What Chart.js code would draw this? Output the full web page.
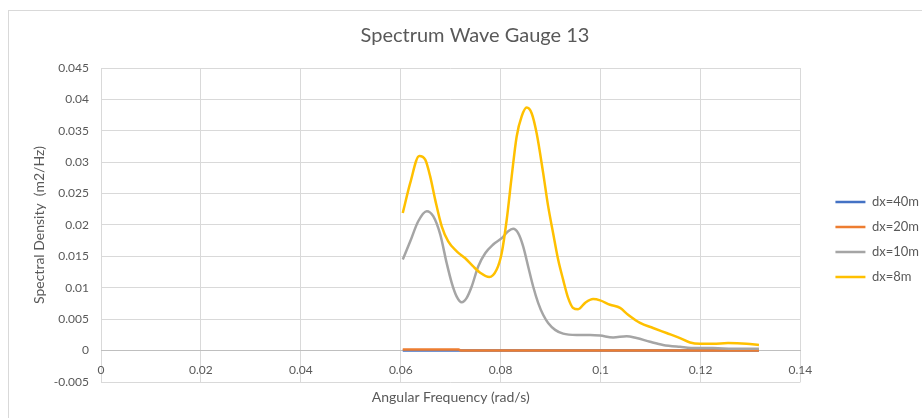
<!DOCTYPE html>
<html>
<head>
<meta charset="utf-8">
<script src="https://cdn.jsdelivr.net/npm/chart.js@4"></script>
<style>
  html, body { margin: 0; padding: 0; background: #fff; overflow: hidden; }
  #wrap { position: absolute; left: 8px; top: 10px; width: 930px; height: 420px; border: 1px solid #d9d9d9; background: #fff; }
</style>
</head>
<body>
<div id="wrap"><canvas id="spectrumChart" width="930" height="420"></canvas></div>
<script>
// Spectrum Wave Gauge 13 - spectral density vs angular frequency

const seriesNames = ['dx=40m', 'dx=20m', 'dx=10m', 'dx=8m'];
const seriesColors = ['#4472C4', '#ED7D31', '#A5A5A5', '#FFC000'];

const freq40 = [0.0604, 0.0660, 0.0717, 0.0800, 0.0900, 0.1000, 0.1100, 0.1200, 0.1317];
const dens40 = [0.00002, 0.00002, 0.00002, 0, 0, 0, 0, 0, 0];

const freq20 = [0.0604, 0.0660, 0.0716, 0.0720, 0.0800, 0.0900, 0.1000, 0.1100, 0.1200, 0.1317];
const dens20 = [0.00016, 0.00016, 0.00016, 0.00001, 0.00001, 0.00001, 0.00001, 0.00001, 0.00001, 0.00001];

const freq10 = [0.0604, 0.0619, 0.0635, 0.0652, 0.0665, 0.0679, 0.0692, 0.0702, 0.0712, 0.0722,
  0.0732, 0.0742, 0.0755, 0.0769, 0.0785, 0.0802, 0.0815, 0.0825, 0.0835, 0.0845,
  0.0855, 0.0865, 0.0875, 0.0885, 0.0895, 0.0909, 0.0925, 0.0952, 0.0979, 0.0999,
  0.1025, 0.1052, 0.1072, 0.1099, 0.1125, 0.1159, 0.1192, 0.1225, 0.1265, 0.1317];
const dens10 = [0.0145, 0.0174, 0.0206, 0.0222, 0.0214, 0.0185, 0.0139, 0.0108, 0.0086, 0.0077,
  0.0084, 0.0102, 0.0134, 0.0155, 0.0169, 0.0179, 0.0190, 0.0194, 0.0187, 0.0166,
  0.0134, 0.0102, 0.0076, 0.0057, 0.0044, 0.0033, 0.0027, 0.0025, 0.0025, 0.0024,
  0.0021, 0.0023, 0.0020, 0.0014, 0.0009, 0.0006, 0.0004, 0.0004, 0.0003, 0.0003];

const freq8 = [0.0604, 0.0619, 0.0637, 0.0649, 0.0659, 0.0669, 0.0682, 0.0695, 0.0712, 0.0729,
  0.0745, 0.0759, 0.0777, 0.0792, 0.0802, 0.0812, 0.0822, 0.0832, 0.0842, 0.0852,
  0.0862, 0.0872, 0.0885, 0.0895, 0.0905, 0.0915, 0.0925, 0.0935, 0.0945, 0.0955,
  0.0969, 0.0985, 0.0999, 0.1019, 0.1039, 0.1055, 0.1079, 0.1105, 0.1132, 0.1159,
  0.1179, 0.1199, 0.1225, 0.1255, 0.1292, 0.1317];
const dens8 = [0.0219, 0.0267, 0.0310, 0.0304, 0.0277, 0.0240, 0.0198, 0.0174, 0.0158, 0.0147,
  0.0134, 0.0124, 0.0117, 0.0129, 0.0155, 0.0208, 0.0277, 0.0341, 0.0373, 0.0387,
  0.0378, 0.0346, 0.0283, 0.0230, 0.0187, 0.0145, 0.0113, 0.0084, 0.0068, 0.0066,
  0.0076, 0.0082, 0.0080, 0.0073, 0.0068, 0.0057, 0.0044, 0.0036, 0.0028, 0.0020,
  0.0013, 0.0011, 0.0011, 0.0012, 0.0011, 0.0009];

const xTicks = [0, 0.02, 0.04, 0.06, 0.08, 0.1, 0.12, 0.14];
const yTicks = [-0.005, 0, 0.005, 0.01, 0.015, 0.02, 0.025, 0.03, 0.035, 0.04, 0.045];

const FONT = 'Lato, "Open Sans", sans-serif';
const TEXT_GREY = '#595959';
const GRID_GREY = '#d9d9d9';

const toPoints = (xs, ys) => xs.map((x, i) => ({ x, y: ys[i] }));
const allX = [freq40, freq20, freq10, freq8];
const allY = [dens40, dens20, dens10, dens8];

// Excel draws later series on top -> lower order draws last in Chart.js
const datasets = seriesNames.map((name, idx) => ({
  label: name,
  data: toPoints(allX[idx], allY[idx]),
  borderColor: seriesColors[idx],
  backgroundColor: seriesColors[idx],
  borderWidth: 2.5,
  pointRadius: 0,
  cubicInterpolationMode: 'monotone',
  fill: false,
  order: seriesNames.length - idx
}));

new Chart(document.getElementById('spectrumChart'), {
  type: 'line',
  data: { datasets },
  options: {
    responsive: false,
    animation: false,
    layout: { padding: { left: 12, right: 10, top: 0, bottom: 49 } },
    plugins: {
      title: {
        display: true,
        text: 'Spectrum Wave Gauge 13',
        color: TEXT_GREY,
        font: { family: FONT, size: 20, weight: 'normal' },
        padding: { top: 13, bottom: 20 }
      },
      legend: {
        position: 'right',
        fullSize: false,
        title: { display: true, text: ' ', font: { size: 1 }, padding: { top: 0, bottom: 28 } },
        labels: {
          usePointStyle: true,
          pointStyle: 'line',
          pointStyleWidth: 30,
          padding: 12,
          color: TEXT_GREY,
          font: { family: FONT, size: 13 },
          sort: (a, b) => a.datasetIndex - b.datasetIndex
        }
      },
      tooltip: { enabled: false }
    },
    scales: {
      x: {
        type: 'linear',
        position: { y: 0 },
        min: 0,
        max: 0.14,
        afterBuildTicks: axis => { axis.ticks = xTicks.map(v => ({ value: v })); },
        ticks: {
          color: TEXT_GREY,
          font: { family: FONT, size: 12 },
          padding: 12,
          callback: v => String(parseFloat(v.toFixed(3)))
        },
        grid: { color: GRID_GREY, lineWidth: 1, drawTicks: false },
        border: { display: true, color: '#bfbfbf', width: 1 },
        title: {
          display: true,
          text: 'Angular Frequency (rad/s)',
          color: TEXT_GREY,
          font: { family: FONT, size: 14 },
          padding: { top: 0, bottom: 0 }
        }
      },
      y: {
        type: 'linear',
        position: 'left',
        min: -0.005,
        max: 0.045,
        afterBuildTicks: axis => { axis.ticks = yTicks.map(v => ({ value: v })); },
        afterFit: axis => { axis.width = 80; },
        ticks: {
          color: TEXT_GREY,
          font: { family: FONT, size: 12 },
          padding: 12,
          callback: v => String(parseFloat(v.toFixed(3)))
        },
        grid: { color: GRID_GREY, lineWidth: 1, drawTicks: false },
        border: { display: false },
        title: {
          display: true,
          text: 'Spectral Density  (m2/Hz)',
          color: TEXT_GREY,
          font: { family: FONT, size: 14 },
          padding: { top: 10, bottom: 0 }
        }
      },
      // spacer between plot area and legend
      gap: {
        type: 'linear',
        position: 'right',
        display: true,
        afterFit: axis => { axis.width = 23; },
        ticks: { display: false },
        grid: { display: false, drawTicks: false },
        border: { display: false }
      }
    }
  }
});
</script>
</body>
</html>
